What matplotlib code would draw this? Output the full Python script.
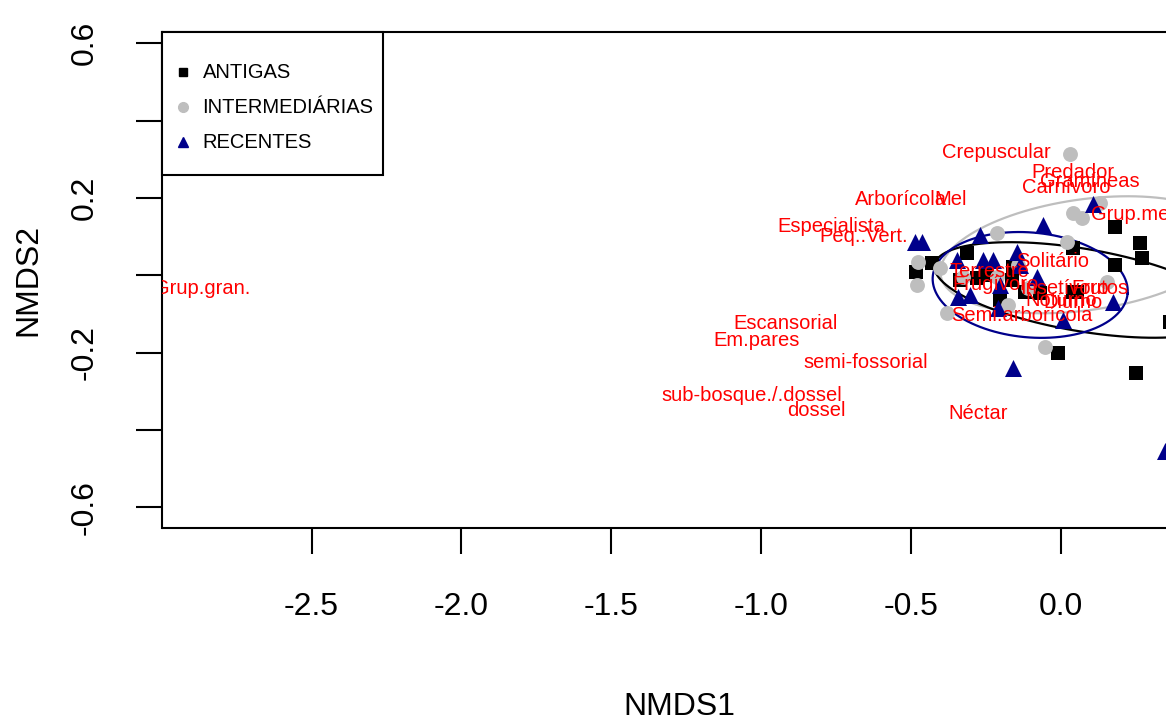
import numpy as np
import matplotlib
matplotlib.use("Agg")
import matplotlib.pyplot as plt
from matplotlib.patches import Rectangle

plt.rcParams['font.family'] = ['Liberation Sans', 'DejaVu Sans']

# ---- data (NMDS scores) ----
antigas_x = [-0.483, -0.430, -0.313, -0.280, -0.247, -0.163, -0.160, -0.120, -0.070, 0.040,
             0.040, 0.180, 0.263, 0.270, 0.180, 0.053, -0.010, 0.250, 0.363, -0.337, -0.203]
antigas_y = [0.009, 0.032, 0.058, -0.007, 0.001, -0.012, 0.022, -0.043, -0.046, -0.043,
             0.071, 0.126, 0.084, 0.045, 0.027, -0.043, -0.202, -0.253, -0.121, -0.012, -0.064]

inter_x = [0.030, 0.040, 0.070, 0.130, -0.213, -0.477, -0.480, -0.327, -0.380, -0.143,
           -0.110, 0.153, -0.053, -0.213, 0.020, -0.177, -0.403]
inter_y = [0.313, 0.162, 0.149, 0.188, 0.110, 0.035, -0.025, -0.004, -0.098, 0.027,
           -0.033, -0.017, -0.186, -0.004, 0.087, -0.077, 0.019]

recent_x = [-0.487, -0.463, -0.270, -0.060, 0.107, -0.347, -0.260, -0.227, -0.147, -0.080,
            -0.203, -0.303, -0.343, -0.210, 0.173, 0.007, -0.160, 0.347, -0.137]
recent_y = [0.087, 0.087, 0.105, 0.131, 0.183, 0.040, 0.040, 0.040, 0.061, -0.004,
            -0.025, -0.051, -0.056, -0.085, -0.069, -0.116, -0.240, -0.453, 0.027]

# trait (species-score) labels
trait_names = ["Grup.gran.", "Crepuscular", "Predador", "Gramíneas", "Carnívoro", "Grup.med.",
               "Arborícola", "Mel", "Especialista", "Peq..Vert.", "Escansorial", "Em.pares",
               "semi-fossorial", "sub-bosque./.dossel", "dossel", "Néctar", "Solitário",
               "Semi.arborícola", "Terrestre", "Frugívoro", "Insetívoro", "Frutos",
               "Noturno", "Diurno"]
trait_x = [-2.863, -0.217, 0.040, 0.097, 0.017, 0.257,
           -0.533, -0.367, -0.767, -0.657, -0.920, -1.017,
           -0.653, -1.032, -0.817, -0.277, -0.027,
           -0.130, -0.240, -0.220, 0.010, 0.130,
           0.000, 0.040]
trait_y = [-0.033, 0.318, 0.266, 0.242, 0.227, 0.157,
           0.196, 0.196, 0.126, 0.100, -0.124, -0.168,
           -0.225, -0.310, -0.349, -0.357, 0.035,
           -0.103, 0.010, -0.025, -0.033, -0.033,
           -0.065, -0.070]

# group ellipses: centre, half major-axis vector, half minor-axis vector (data units)
ell_antigas = [(0.070, -0.038), (0.492, -0.065), (-0.023, -0.105)]
ell_inter = [(0.080, 0.053), (0.482, 0.052), (0.025, -0.142)]
ell_recent = [(-0.103, -0.025), (0.325, -0.022), (-0.015, -0.135)]

group_labels = ["ANTIGAS", "INTERMEDIÁRIAS", "RECENTES"]
col_black = "#000000"
col_grey = "#BEBEBE"
col_blue = "#00008B"

x_ticks = [-2.5, -2.0, -1.5, -1.0, -0.5, 0.0]
y_ticks = [0.6, 0.4, 0.2, 0.0, -0.2, -0.4, -0.6]
y_ticklabels = ["0.6", "", "0.2", "", "-0.2", "", "-0.6"]

# ---- figure ----
fig = plt.figure(figsize=(11.66, 7.24), dpi=100)
W, H = 1166.0, 724.0
left_px, right_px, top_px, bot_px = 162.5, 1196.0, 32.3, 528.3
ax_w_px, ax_h_px = right_px - left_px, bot_px - top_px
ax = fig.add_axes([left_px / W, 1 - bot_px / H, ax_w_px / W, ax_h_px / H])
ax.set_xlim(-2.997, 0.45)
ax.set_ylim(-0.654, 0.628)

t = np.linspace(0, 2 * np.pi, 120)
for (c, u, v), col in [(ell_inter, col_grey), (ell_antigas, col_black), (ell_recent, col_blue)]:
    ex = c[0] + u[0] * np.cos(t) + v[0] * np.sin(t)
    ey = c[1] + u[1] * np.cos(t) + v[1] * np.sin(t)
    ax.plot(ex, ey, color=col, lw=1.6, zorder=2)

ax.scatter(antigas_x, antigas_y, marker="s", s=100, color=col_black, linewidths=0, zorder=3)
ax.scatter(inter_x, inter_y, marker="o", s=115, color=col_grey, linewidths=0, zorder=3)
ax.scatter(recent_x, recent_y, marker="^", s=150, color=col_blue, linewidths=0, zorder=3)

for name, x, y in zip(trait_names, trait_x, trait_y):
    ax.text(x, y, name, color="#FF0000", fontsize=14.5, ha="center", va="center",
            clip_on=True, zorder=4)

ax.set_xticks(x_ticks)
ax.set_xticklabels([f"{v:.1f}" for v in x_ticks])
ax.set_yticks(y_ticks)
ax.set_yticklabels(y_ticklabels, rotation=90, va="center")
ax.tick_params(axis="both", length=19, width=1.5, color="black", labelsize=23)
ax.tick_params(axis="x", pad=27)
ax.tick_params(axis="y", pad=26)
for s in ax.spines.values():
    s.set_linewidth(1.5)

ax.set_xlabel("NMDS1", fontsize=23, labelpad=50)
ax.set_ylabel("NMDS2", fontsize=23, labelpad=19)

# ---- legend box (R style), laid out in axes fractions ----
def fx(px):
    return px / ax_w_px

def fy(px):
    return 1 - px / ax_h_px

ax.add_patch(Rectangle((0, fy(143)), fx(221), 1 - fy(143), transform=ax.transAxes,
                       facecolor="white", edgecolor="black", lw=1.5, zorder=10, clip_on=False))
leg_markers = [("s", 6, col_black), ("o", 7, col_grey), ("^", 7, col_blue)]
leg_rows = [40, 75, 110]
for (m, ms, col), lab, row in zip(leg_markers, group_labels, leg_rows):
    ax.plot([fx(21)], [fy(row)], marker=m, markersize=ms, color=col, linestyle="none",
            transform=ax.transAxes, zorder=11, clip_on=False)
    ax.text(fx(40), fy(row), lab, fontsize=14.5, ha="left", va="center",
            transform=ax.transAxes, zorder=11)

fig.savefig("out.png", dpi=100)
